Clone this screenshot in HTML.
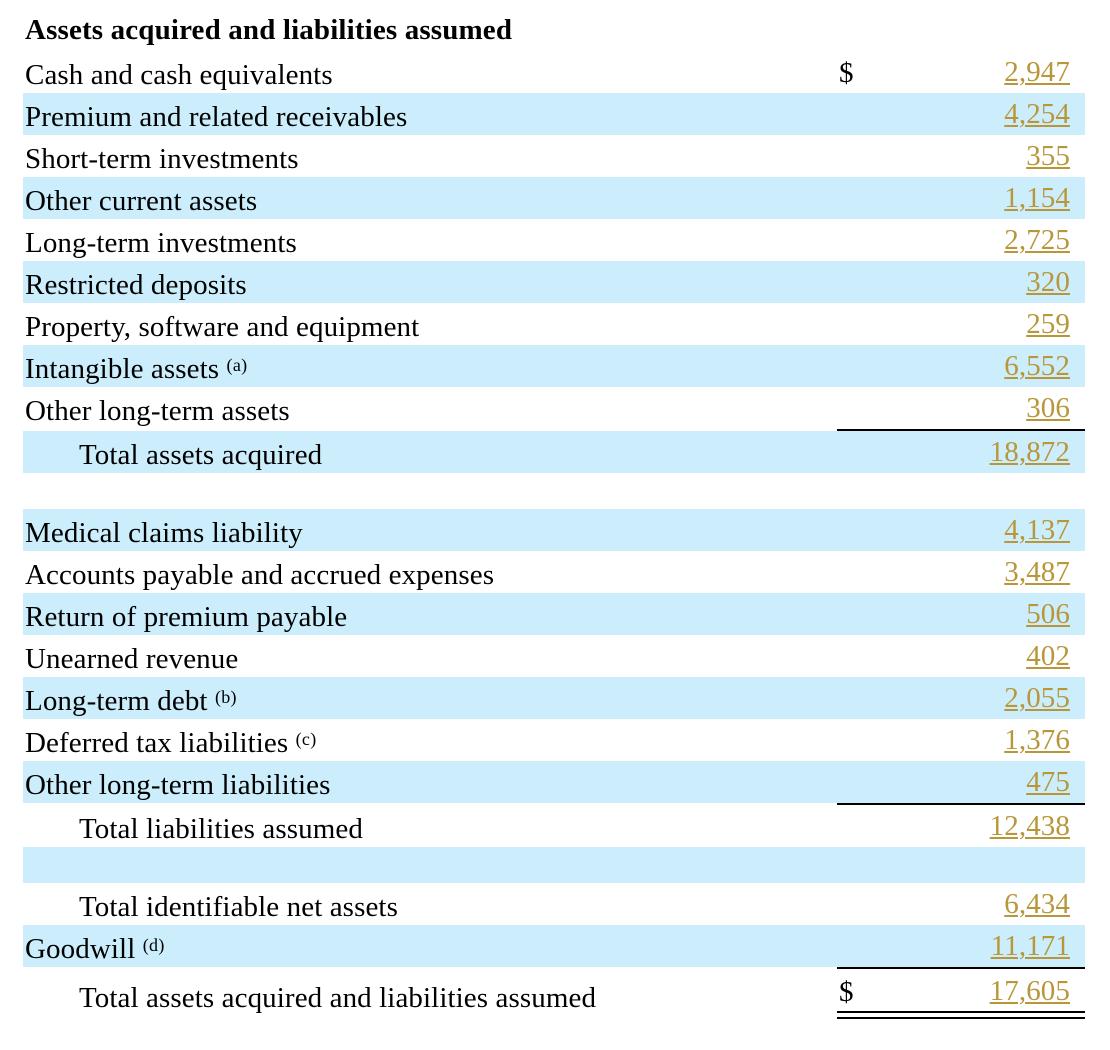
<!DOCTYPE html>
<html>
<head>
<meta charset="utf-8">
<style>
  html, body { margin:0; padding:0; background:#ffffff; }
  body { width:1110px; height:1050px; position:relative; overflow:hidden;
         font-family:"Liberation Serif", "Times New Roman", serif; color:#000; }
  .bg { position:absolute; left:23px; width:1062px; background:#cceefc; }
  .t { position:absolute; font-size:29px; line-height:40px; height:40px; white-space:nowrap; letter-spacing:0.1px; }
  .lab { left:25px; }
  .ind { left:79px; }
  .num { right:40px; text-align:right; color:#b8973a; text-decoration:underline;
         text-decoration-color:#b8973a; text-decoration-thickness:2px; text-underline-offset:1.5px; }
  .dol { left:839px; }
  .hdr { font-weight:bold; letter-spacing:0.15px; left:25px; }
  sup { font-size:18px; vertical-align:7px; line-height:0; letter-spacing:0.3px; }
  .line { position:absolute; left:837px; width:248px; height:2px; background:#000; }
</style>
</head>
<body>
<!-- blue backgrounds -->
<div class="bg" style="top:93px;height:42px"></div>
<div class="bg" style="top:177px;height:42px"></div>
<div class="bg" style="top:261px;height:42px"></div>
<div class="bg" style="top:345px;height:42px"></div>
<div class="bg" style="top:431px;height:42px"></div>
<div class="bg" style="top:509px;height:42px"></div>
<div class="bg" style="top:593px;height:42px"></div>
<div class="bg" style="top:677px;height:42px"></div>
<div class="bg" style="top:761px;height:42px"></div>
<div class="bg" style="top:847px;height:36px"></div>
<div class="bg" style="top:925px;height:42px"></div>

<!-- rules -->
<div class="line" style="top:429px"></div>
<div class="line" style="top:803px"></div>
<div class="line" style="top:967px"></div>
<div class="line" style="top:1011px"></div>
<div class="line" style="top:1017px"></div>

<!-- header -->
<div class="t hdr" style="top:9.5px">Assets acquired and liabilities assumed</div>

<!-- rows -->
<div class="t lab" style="top:55px">Cash and cash equivalents</div>
<div class="t dol" style="top:52.5px">$</div>
<div class="t num" style="top:52px">2,947</div>

<div class="t lab" style="top:97px">Premium and related receivables</div>
<div class="t num" style="top:94px">4,254</div>

<div class="t lab" style="top:139px">Short-term investments</div>
<div class="t num" style="top:136px">355</div>

<div class="t lab" style="top:181px">Other current assets</div>
<div class="t num" style="top:178px">1,154</div>

<div class="t lab" style="top:223px">Long-term investments</div>
<div class="t num" style="top:220px">2,725</div>

<div class="t lab" style="top:265px">Restricted deposits</div>
<div class="t num" style="top:262px">320</div>

<div class="t lab" style="top:307px">Property, software and equipment</div>
<div class="t num" style="top:304px">259</div>

<div class="t lab" style="top:349px">Intangible assets <sup>(a)</sup></div>
<div class="t num" style="top:346px">6,552</div>

<div class="t lab" style="top:391px">Other long-term assets</div>
<div class="t num" style="top:388px">306</div>

<div class="t ind" style="top:435px">Total assets acquired</div>
<div class="t num" style="top:432px">18,872</div>

<div class="t lab" style="top:513px">Medical claims liability</div>
<div class="t num" style="top:510px">4,137</div>

<div class="t lab" style="top:555px">Accounts payable and accrued expenses</div>
<div class="t num" style="top:552px">3,487</div>

<div class="t lab" style="top:597px">Return of premium payable</div>
<div class="t num" style="top:594px">506</div>

<div class="t lab" style="top:639px">Unearned revenue</div>
<div class="t num" style="top:636px">402</div>

<div class="t lab" style="top:681px">Long-term debt <sup>(b)</sup></div>
<div class="t num" style="top:678px">2,055</div>

<div class="t lab" style="top:723px">Deferred tax liabilities <sup>(c)</sup></div>
<div class="t num" style="top:720px">1,376</div>

<div class="t lab" style="top:765px">Other long-term liabilities</div>
<div class="t num" style="top:762px">475</div>

<div class="t ind" style="top:809px">Total liabilities assumed</div>
<div class="t num" style="top:806px">12,438</div>

<div class="t ind" style="top:887px">Total identifiable net assets</div>
<div class="t num" style="top:884px">6,434</div>

<div class="t lab" style="top:929px">Goodwill <sup>(d)</sup></div>
<div class="t num" style="top:926px">11,171</div>

<div class="t ind" style="top:977.5px">Total assets acquired and liabilities assumed</div>
<div class="t dol" style="top:971.5px">$</div>
<div class="t num" style="top:971px">17,605</div>
</body>
</html>
